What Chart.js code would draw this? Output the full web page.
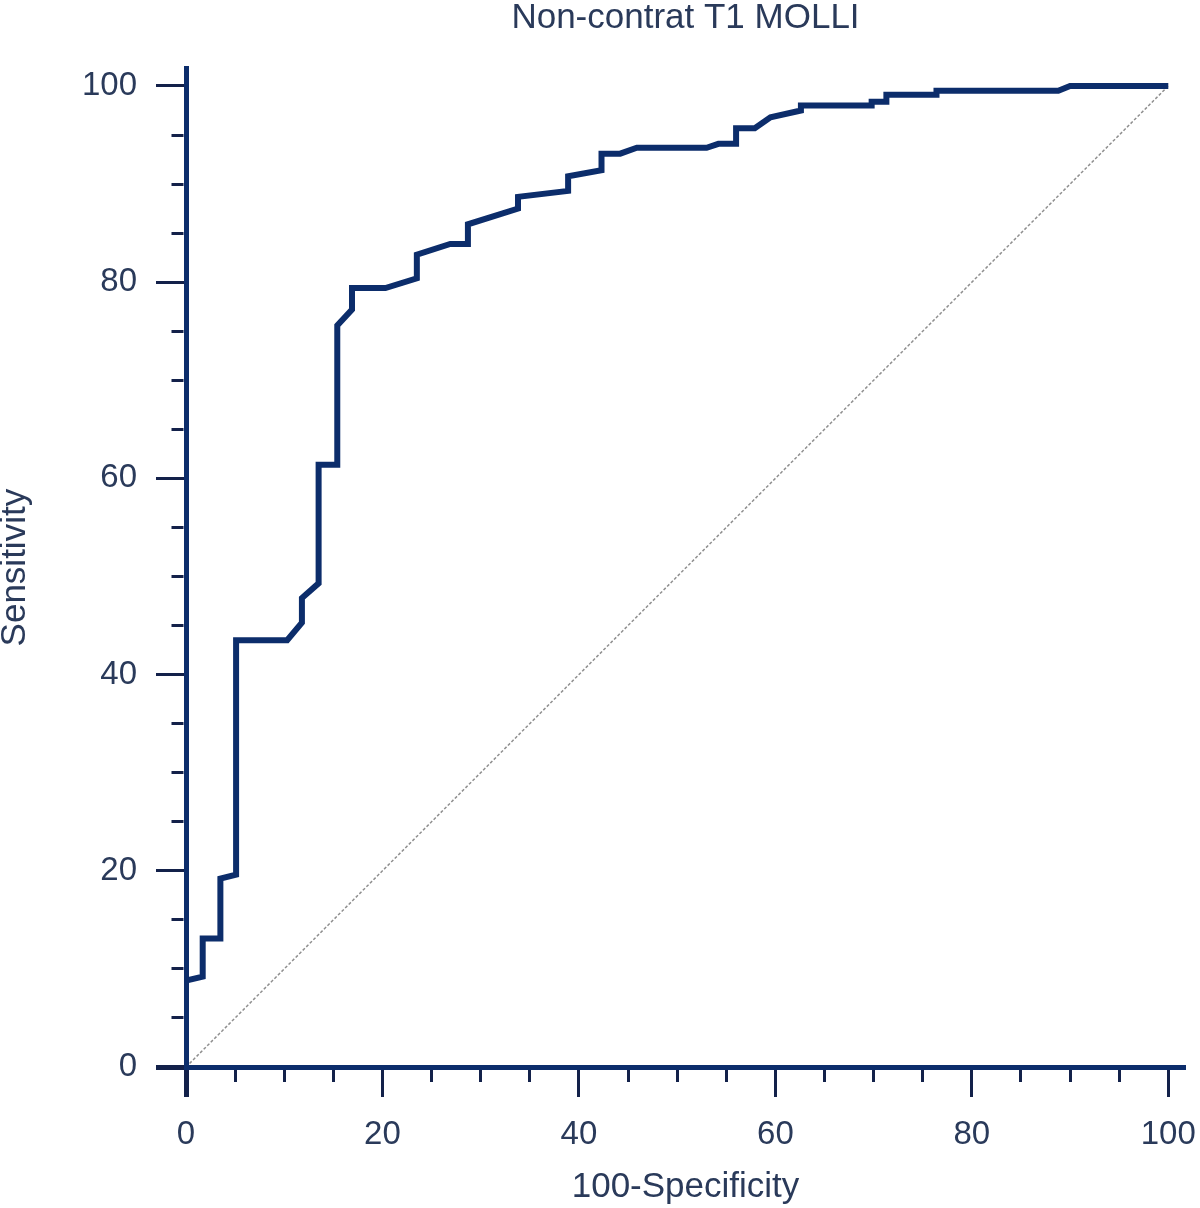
<!DOCTYPE html>
<html>
<head>
<meta charset="utf-8">
<script src="https://cdn.jsdelivr.net/npm/chart.js@4"></script>
<style>
html,body{margin:0;padding:0;background:#ffffff;}
#wrap{width:1200px;height:1208px;position:relative;}
</style>
</head>
<body>
<div id="wrap"><canvas id="c"></canvas></div>
<script>
// ROC curve vertices: 100-Specificity (x) and Sensitivity (y)
const fprValues = [0, 0, 1.7, 1.7, 3.5, 3.5, 5.1, 5.1, 10.3, 11.8, 11.8, 13.5, 13.5, 15.4, 15.4, 16.9, 16.9, 20.3, 23.5, 23.5, 26.9, 28.7, 28.7, 33.8, 33.8, 38.9, 38.9, 42.3, 42.3, 44.2, 45.9, 53.0, 54.2, 56.0, 56.0, 57.9, 59.5, 62.6, 62.6, 69.8, 69.8, 71.3, 71.3, 76.4, 76.4, 88.8, 90.0, 100];
const sensValues = [0, 8.8, 9.2, 13.1, 13.1, 19.2, 19.6, 43.5, 43.5, 45.3, 47.8, 49.3, 61.4, 61.4, 75.6, 77.2, 79.4, 79.4, 80.4, 82.8, 83.9, 83.9, 85.9, 87.5, 88.7, 89.3, 90.8, 91.4, 93.1, 93.1, 93.7, 93.7, 94.1, 94.1, 95.7, 95.7, 96.8, 97.5, 98.0, 98.0, 98.4, 98.4, 99.1, 99.1, 99.5, 99.5, 100, 100];
// reference (chance) line
const refX = [0, 100];
const refY = [0, 100];
// axis ticks
const axisTicks = [0, 5, 10, 15, 20, 25, 30, 35, 40, 45, 50, 55, 60, 65, 70, 75, 80, 85, 90, 95, 100];
const labelledTicks = [0, 20, 40, 60, 80, 100];

const titleText = 'Non-contrat T1 MOLLI';
const xTitle = '100-Specificity';
const yTitle = 'Sensitivity';

const NAVY = '#0c2d6b';
const TICKC = '#13214a';
const TEXTC = '#2a3a5a';
const FONT = "'Liberation Sans', Arial, sans-serif";

const isMajor = v => labelledTicks.includes(v);

function tickCfg(horizontal) {
  return {
    display: true,
    drawOnChartArea: false,
    drawTicks: true,
    tickLength: 30,
    tickColor: TICKC,
    tickWidth: ctx => (ctx.tick && ctx.tick.value === 0) ? 5 : 3,
    tickBorderDash: ctx => (ctx.tick && isMajor(ctx.tick.value)) ? [] : (horizontal ? [12, 30] : [12, 15.5]),
    tickBorderDashOffset: ctx => (ctx.tick && isMajor(ctx.tick.value)) ? 0 : (horizontal ? 0 : 12)
  };
}

new Chart(document.getElementById('c'), {
  type: 'scatter',
  data: {
    datasets: [
      {
        data: fprValues.map((x, i) => ({x: x, y: sensValues[i]})),
        showLine: true,
        borderColor: NAVY,
        borderWidth: 6,
        borderJoinStyle: 'miter',
        pointRadius: 0,
        fill: false,
        tension: 0,
        order: 1
      },
      {
        data: refX.map((x, i) => ({x: x, y: refY[i]})),
        showLine: true,
        borderColor: '#8f8f8f',
        borderWidth: 1.5,
        borderDash: [3, 2],
        pointRadius: 0,
        fill: false,
        order: 2
      }
    ]
  },
  options: {
    responsive: true,
    maintainAspectRatio: false,
    animation: false,
    layout: {padding: {left: 0, right: 15, top: 0, bottom: 0}},
    plugins: {
      legend: {display: false},
      tooltip: {enabled: false},
      title: {
        display: true,
        fullSize: false,
        text: titleText,
        color: TEXTC,
        font: {family: FONT, size: 35, weight: 'normal', lineHeight: 1.2},
        padding: {top: -3, bottom: 29.3}
      }
    },
    scales: {
      x: {
        type: 'linear',
        position: 'bottom',
        min: 0,
        max: 101.7,
        afterBuildTicks: s => { s.ticks = axisTicks.map(v => ({value: v})); },
        afterFit: s => { s.height = 141; s.paddingLeft = 0; s.paddingRight = 0; },
        border: {display: true, width: 5, color: NAVY},
        grid: tickCfg(true),
        ticks: {
          autoSkip: false,
          maxRotation: 0,
          padding: 18,
          color: TEXTC,
          font: {family: FONT, size: 33},
          callback: v => isMajor(v) ? String(v) : ''
        },
        title: {
          display: true,
          text: xTitle,
          color: TEXTC,
          font: {family: FONT, size: 35, lineHeight: 1},
          padding: {top: 0, bottom: 3}
        }
      },
      y: {
        type: 'linear',
        position: 'left',
        min: 0,
        max: 101.8,
        afterBuildTicks: s => { s.ticks = axisTicks.map(v => ({value: v})); },
        afterFit: s => { s.width = 186; s.paddingTop = 0; s.paddingBottom = 0; },
        border: {display: true, width: 5, color: NAVY},
        grid: tickCfg(false),
        ticks: {
          autoSkip: false,
          padding: 19,
          color: TEXTC,
          font: {family: FONT, size: 33},
          callback: v => isMajor(v) ? String(v) : ''
        },
        title: {
          display: true,
          text: yTitle,
          color: TEXTC,
          font: {family: FONT, size: 35, lineHeight: 1},
          padding: {top: -2, bottom: 0}
        }
      }
    }
  }
});
</script>
</body>
</html>
